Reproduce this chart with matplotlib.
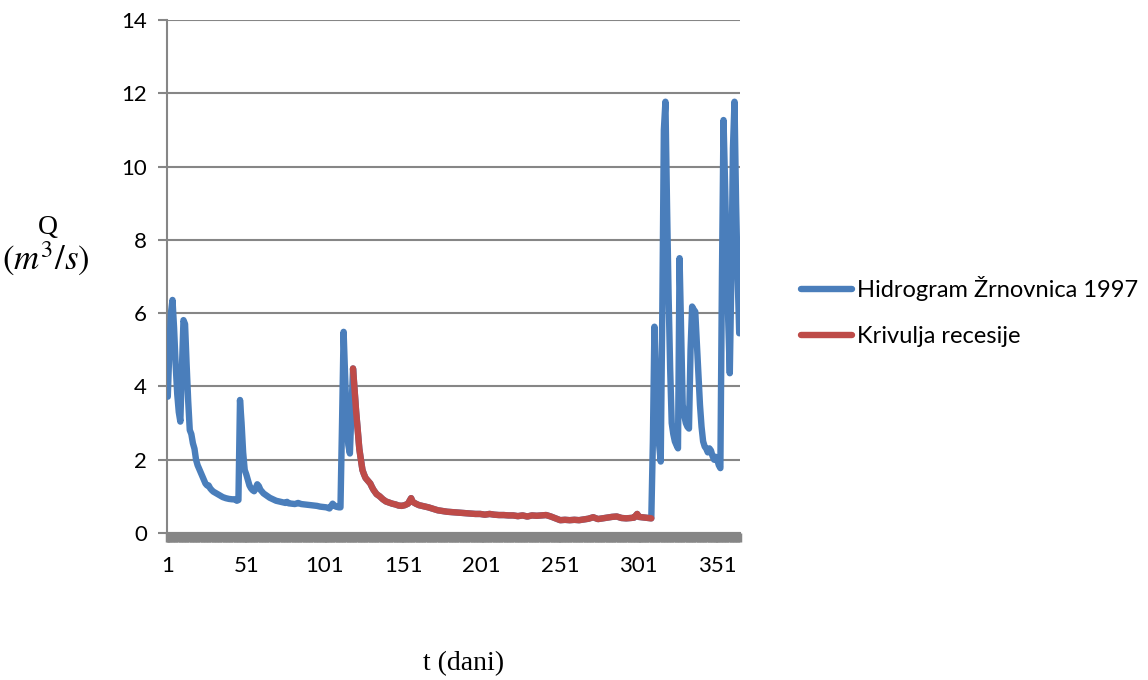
import matplotlib
matplotlib.use("Agg")
import matplotlib.pyplot as plt
import numpy as np

# daily flow (day of year, m3/s)
days = [
    1, 2, 3, 4, 5, 6, 7, 8, 9, 10, 11, 12, 13, 14, 15, 16, 17, 18, 19, 20,
    21, 22, 23, 24, 25, 26, 27, 28, 29, 30, 32, 34, 36, 38, 40, 42, 44, 45, 46, 47,
    48, 49, 50, 51, 52, 53, 54, 55, 56, 57, 58, 59, 60, 62, 64, 66, 68, 70, 72, 74,
    76, 77, 78, 80, 82, 84, 86, 88, 90, 92, 94, 96, 98, 100, 102, 104, 106, 108, 110, 111,
    112, 113, 114, 115, 116, 117, 118,
    119, 120, 121, 122, 123, 124, 125, 126, 127, 128, 129, 130, 131, 132, 133, 134, 136, 138,
    140, 142, 144, 146, 148, 150, 152, 154, 156, 157, 159, 161, 163, 165, 167, 170, 173, 176,
    179, 182, 185, 188, 191, 194, 197, 200, 203, 206, 209, 212, 215, 218, 221, 224, 227, 230,
    233, 236, 239, 242, 245, 248, 251, 254, 257, 260, 263, 266, 269, 272, 275, 278, 281, 284,
    287, 290, 293, 296, 298, 300, 301, 303, 305, 307, 309,
    310, 311, 312, 313, 314, 315, 316, 317, 318, 319, 320, 321, 322, 323, 324, 325, 326, 327,
    328, 329, 330, 331, 332, 333, 334, 335, 336, 337, 338, 339, 340, 341, 342, 343, 344, 345,
    346, 347, 348, 349, 350, 351, 352, 353, 354, 355, 356, 357, 358, 359, 360, 361, 362, 363,
    364, 365,
]
flow = [
    3.72, 5.0, 6.0, 6.36, 5.6, 4.6, 3.8, 3.3, 3.04, 4.5, 5.81, 5.7, 4.6, 3.6, 2.81, 2.7, 2.45, 2.3, 2.0, 1.85,
    1.75, 1.65, 1.55, 1.45, 1.35, 1.3, 1.3, 1.22, 1.17, 1.13, 1.08, 1.03, 0.98, 0.95, 0.93, 0.92, 0.92, 0.88, 0.9, 3.63,
    3.0, 2.2, 1.72, 1.6, 1.45, 1.3, 1.22, 1.17, 1.14, 1.22, 1.33, 1.28, 1.18, 1.08, 1.02, 0.96, 0.92, 0.88, 0.86, 0.84,
    0.82, 0.85, 0.81, 0.8, 0.79, 0.82, 0.79, 0.78, 0.77, 0.76, 0.75, 0.74, 0.72, 0.71, 0.7, 0.67, 0.8, 0.72, 0.7, 0.7,
    3.0, 5.49, 4.2, 3.0, 2.4, 2.17, 3.3,
    4.49, 3.9, 3.3, 2.81, 2.3, 2.0, 1.72, 1.6, 1.5, 1.45, 1.4, 1.35, 1.26, 1.18, 1.12, 1.06, 1.0, 0.92,
    0.86, 0.83, 0.8, 0.78, 0.75, 0.74, 0.76, 0.8, 0.95, 0.85, 0.8, 0.76, 0.74, 0.72, 0.7, 0.66, 0.62, 0.6,
    0.58, 0.57, 0.56, 0.55, 0.54, 0.53, 0.52, 0.52, 0.5, 0.52, 0.5, 0.49, 0.49, 0.48, 0.48, 0.46, 0.48, 0.45,
    0.48, 0.47, 0.48, 0.49, 0.45, 0.4, 0.35, 0.36, 0.35, 0.36, 0.35, 0.37, 0.39, 0.43, 0.38, 0.4, 0.42, 0.44,
    0.45, 0.41, 0.4, 0.41, 0.42, 0.52, 0.44, 0.43, 0.42, 0.41, 0.4,
    2.5, 5.63, 4.2, 3.2, 2.4, 1.95, 6.0, 11.0, 11.77, 9.0, 6.5, 4.5, 3.0, 2.7, 2.5, 2.4, 2.31, 7.5,
    5.5, 3.5, 3.2, 3.0, 2.9, 2.85, 5.0, 6.18, 6.1, 6.04, 5.2, 4.36, 3.5, 2.9, 2.5, 2.36, 2.3, 2.2,
    2.31, 2.25, 2.1, 2.0, 2.08, 2.0, 1.85, 1.77, 7.0, 11.27, 9.5, 7.54, 5.8, 4.36, 7.0, 10.5, 11.77, 9.0,
    7.0, 5.45,
]
recession_start = 119
recession_end = 309
x_labels = [1, 51, 101, 151, 201, 251, 301, 351]

days = np.array(days)
flow = np.array(flow)
rec = (days >= recession_start) & (days <= recession_end)

blue = "#4A7EBB"
red = "#BE4B48"
grey = "#868686"

fig = plt.figure(figsize=(11.48, 6.8), dpi=100)
ax = fig.add_axes([167 / 1148, 1 - 533 / 680, 573 / 1148, 513 / 680])

ax.plot(days, flow, color=blue, lw=4.6, solid_capstyle="round", solid_joinstyle="round",
        label="Hidrogram Žrnovnica 1997", zorder=3)
ax.plot(days[rec], flow[rec], color=red, lw=4.6, solid_capstyle="round", solid_joinstyle="round",
        label="Krivulja recesije", zorder=4)

ax.set_xlim(0.5, 365.5)
ax.set_ylim(0, 14)
ax.set_yticks(np.arange(0, 15, 2))
ax.set_xticks(x_labels)
ax.set_xticks(np.arange(0.5, 366, 1), minor=True)
ax.grid(axis="y", color=grey, lw=1.5)
ax.set_axisbelow(True)

for side in ("top", "right"):
    ax.spines[side].set_visible(False)
ax.spines["left"].set_color(grey)
ax.spines["left"].set_linewidth(1.5)
ax.spines["bottom"].set_color(grey)
ax.spines["bottom"].set_linewidth(1.5)

ax.tick_params(axis="y", length=6.5, width=1.5, color=grey, pad=8, labelsize=16)
ax.tick_params(axis="x", which="both", length=6.5, width=2.5, color=grey, pad=10, labelsize=16)
for lab in ax.get_xticklabels() + ax.get_yticklabels():
    lab.set_fontfamily("Lato")

fig.text(48 / 1148, 1 - 228 / 680, "Q", fontsize=20, family="Liberation Serif", ha="center", va="center")
fig.text(46 / 1148, 1 - 259 / 680, r"$(m^3/s)$", fontsize=25, ha="center", va="center",
         math_fontfamily="stix")
fig.text(464 / 1148, 1 - 664 / 680, "t (dani)", fontsize=20, family="Liberation Serif",
         ha="center", va="center")

leg = fig.legend(loc="upper left", bbox_to_anchor=(780 / 1148, 1 - 255 / 680), frameon=False,
                 handlelength=2.15, handletextpad=0.2, labelspacing=1.05,
                 prop={"family": "Lato", "size": 17})

fig.savefig("out.png", dpi=100)
